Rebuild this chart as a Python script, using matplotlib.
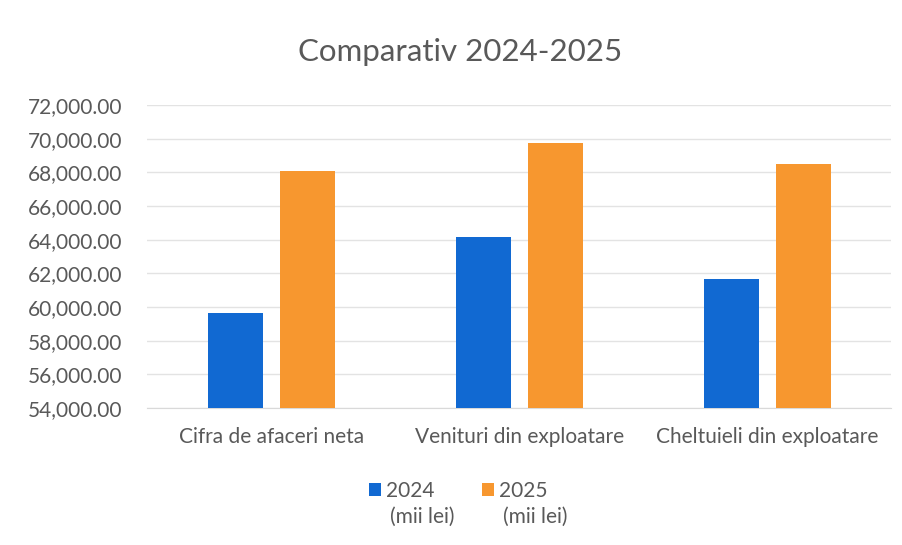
import matplotlib.pyplot as plt
import numpy as np

# values (mii lei)
categories = ['Cifra de afaceri neta', 'Venituri din exploatare', 'Cheltuieli din exploatare']
values_2024 = [59650, 64140, 61650]
values_2025 = [68100, 69770, 68480]
series_labels = ['2024', '2025']
unit_label = '(mii lei)'

plt.rcParams['font.family'] = ['Lato', 'DejaVu Sans']

blue = '#1169d2'
orange = '#f7972f'
text_col = '#595959'

fig = plt.figure(figsize=(9.02, 5.45), dpi=100)
ax = fig.add_axes([0.1635, 0.2514, 0.8243, 0.5559])

x = np.arange(len(categories))
w = 0.222
off = 0.145
ax.bar(x - off, values_2024, width=w, color=blue, label=series_labels[0], zorder=3)
ax.bar(x + off, values_2025, width=w, color=orange, label=series_labels[1], zorder=3)

ax.set_ylim(54000, 72000)
ax.set_yticks(np.arange(54000, 72001, 2000))
ax.set_yticklabels([f'{v:,.2f}' for v in np.arange(54000, 72001, 2000)])
ax.set_xlim(-0.5, len(categories) - 0.5)
ax.set_xticks(x)
ax.set_xticklabels(categories)

ax.grid(axis='y', color='#e3e3e3', linewidth=1, zorder=0)
for s in ['top', 'right', 'left']:
    ax.spines[s].set_visible(False)
ax.spines['bottom'].set_color('#d9d9d9')
ax.tick_params(axis='both', length=0, labelsize=15, colors=text_col)
ax.tick_params(axis='y', pad=18)
ax.tick_params(axis='x', pad=14)

fig.text(0.51, 0.905, 'Comparativ 2024-2025', ha='center', va='center',
         fontsize=22.5, color=text_col)

leg = fig.legend(loc='center', bbox_to_anchor=(0.508, 0.099), ncol=2, frameon=False,
                 fontsize=15, handlelength=0.6, handleheight=0.6, handletextpad=0.25,
                 columnspacing=2.25, labelcolor=text_col)

# second line of each legend entry
fig.canvas.draw()
inv = fig.transFigure.inverted()
for t in leg.get_texts():
    bb = t.get_window_extent()
    x0, _ = inv.transform((bb.x0, bb.y0))
    fig.text(x0 + 0.004, 0.051, unit_label, ha='left', va='center',
             fontsize=15, color=text_col)

fig.savefig('out.png', dpi=100, facecolor='white')
